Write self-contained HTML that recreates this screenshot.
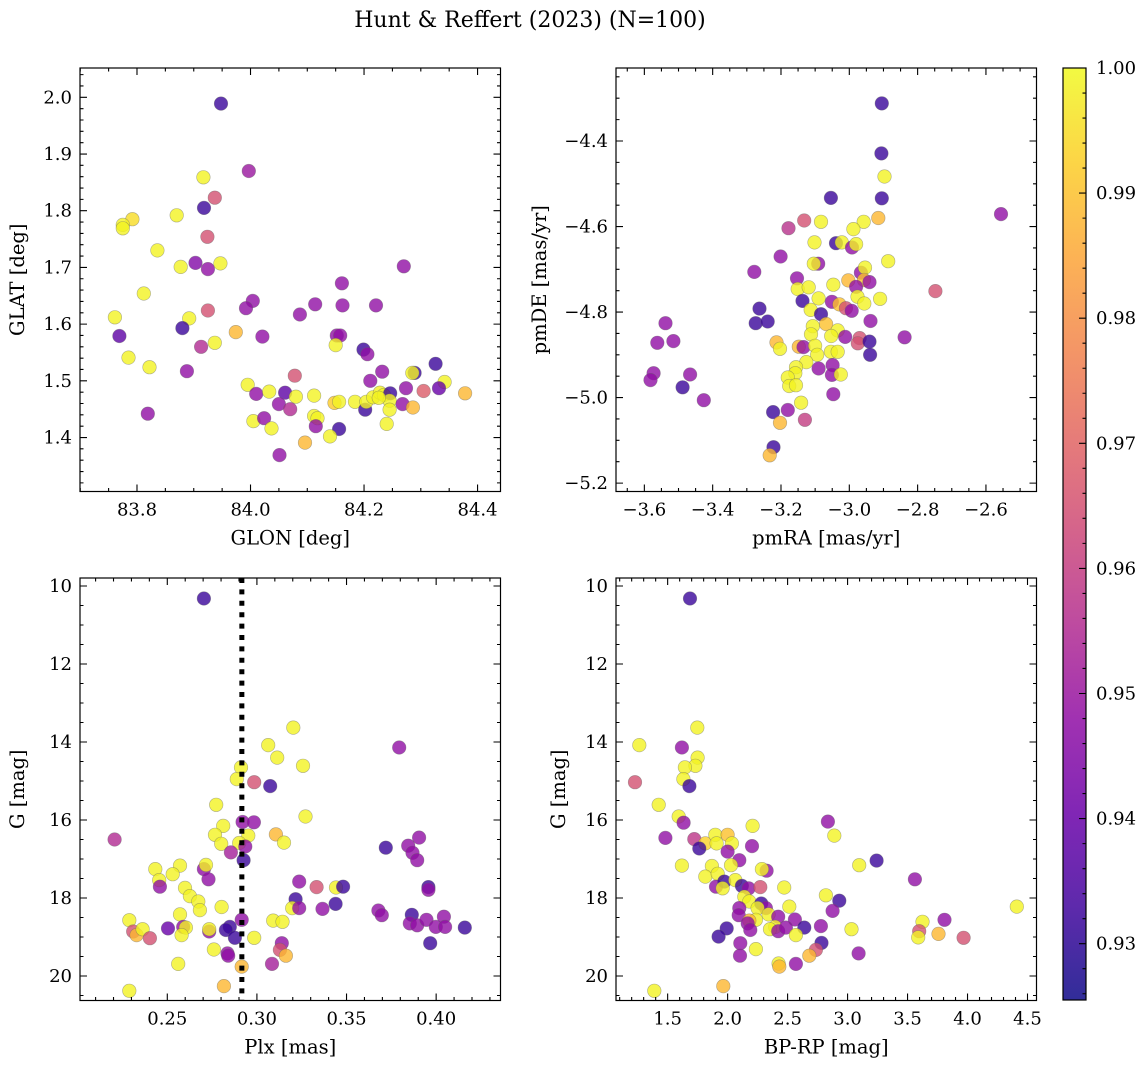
<!DOCTYPE html>
<html><head><meta charset="utf-8"><style>
html,body{margin:0;padding:0;background:#fff;}
svg text{font-family:"DejaVu Serif","Liberation Serif",serif;fill:#000;}
</style></head><body>
<svg id="fig" xmlns="http://www.w3.org/2000/svg" width="1148" height="1068" viewBox="0 0 1148 1068">
<rect width="1148" height="1068" fill="#fff"/>
<text x="530" y="27" font-size="22" text-anchor="middle">Hunt &amp; Reffert (2023) (N=100)</text>
</svg>
<script>
// ---------- Panel 1: GLON vs GLAT ----------
const glon=[83.948,83.997,83.917,83.937,83.918,83.792,83.775,83.775,83.870,83.924,83.836,83.903,83.925,83.877,83.947,84.270,84.161,83.812,84.004,83.992,84.114,84.162,84.221,84.087,83.761,83.892,83.925,83.769,83.880,83.974,84.021,84.152,84.158,84.150,83.785,83.822,83.913,83.937,83.888,84.199,84.206,83.819,84.326,84.232,84.211,84.289,84.285,84.342,84.332,84.274,84.305,84.378,83.995,84.010,84.033,84.061,84.078,84.080,84.050,84.070,84.112,84.148,84.156,84.184,84.202,84.204,84.216,84.228,84.235,84.246,84.245,84.245,84.240,84.226,84.268,84.286,84.005,84.024,84.037,84.112,84.118,84.115,84.156,84.140,84.096,84.051];
const glat=[1.989,1.870,1.859,1.823,1.805,1.785,1.775,1.769,1.792,1.754,1.730,1.708,1.697,1.701,1.707,1.702,1.672,1.654,1.641,1.628,1.635,1.633,1.633,1.617,1.612,1.610,1.624,1.579,1.593,1.586,1.578,1.580,1.580,1.563,1.541,1.524,1.560,1.567,1.517,1.555,1.547,1.442,1.530,1.516,1.500,1.514,1.514,1.498,1.487,1.487,1.482,1.478,1.493,1.477,1.481,1.479,1.509,1.472,1.459,1.450,1.474,1.461,1.463,1.463,1.449,1.463,1.471,1.479,1.475,1.478,1.465,1.449,1.424,1.470,1.459,1.453,1.429,1.434,1.416,1.438,1.434,1.420,1.415,1.402,1.391,1.369];
const prob1=[0.932,0.950,0.999,0.965,0.932,0.995,0.999,0.999,0.999,0.965,0.999,0.945,0.948,0.999,0.999,0.948,0.948,0.999,0.948,0.948,0.948,0.948,0.948,0.948,0.999,0.999,0.965,0.938,0.932,0.988,0.948,0.948,0.948,0.999,0.999,0.999,0.955,0.999,0.948,0.932,0.948,0.948,0.932,0.948,0.948,0.932,0.999,0.999,0.940,0.948,0.968,0.988,0.999,0.948,0.999,0.938,0.965,0.999,0.948,0.955,0.999,0.992,0.999,0.999,0.932,0.999,0.999,0.999,0.999,0.932,0.999,0.999,0.999,0.999,0.948,0.988,0.999,0.948,0.999,0.999,0.999,0.948,0.932,0.999,0.988,0.948];
// ---------- Panel 2: pmRA vs pmDE ----------
const pmra=[-2.905,-2.906,-2.897,-3.054,-2.905,-2.556,-3.132,-3.178,-3.083,-2.958,-2.915,-2.988,-3.039,-3.022,-3.102,-2.992,-2.980,-3.201,-2.886,-3.091,-3.104,-3.278,-2.966,-2.954,-3.153,-3.003,-2.957,-2.941,-3.047,-3.151,-3.119,-2.980,-2.748,-3.137,-3.090,-2.976,-2.956,-2.910,-3.051,-3.029,-3.010,-2.993,-3.263,-3.113,-3.083,-3.274,-3.239,-2.938,-3.538,-3.068,-3.107,-3.034,-3.112,-3.053,-3.562,-3.515,-3.012,-2.970,-2.975,-2.941,-2.838,-3.213,-3.203,-3.148,-3.134,-3.100,-3.094,-3.054,-3.034,-2.939,-3.126,-3.090,-3.049,-3.051,-3.025,-3.156,-3.158,-3.180,-3.176,-3.156,-3.573,-3.582,-3.466,-3.488,-3.426,-3.047,-3.141,-3.223,-3.180,-3.130,-3.203,-3.222,-3.233];
const pmde=[-4.312,-4.429,-4.483,-4.533,-4.534,-4.571,-4.586,-4.604,-4.589,-4.589,-4.580,-4.606,-4.639,-4.637,-4.637,-4.649,-4.641,-4.670,-4.681,-4.687,-4.687,-4.706,-4.708,-4.696,-4.721,-4.726,-4.725,-4.730,-4.736,-4.746,-4.742,-4.741,-4.751,-4.774,-4.768,-4.764,-4.780,-4.769,-4.776,-4.782,-4.791,-4.797,-4.792,-4.795,-4.805,-4.826,-4.822,-4.821,-4.826,-4.828,-4.833,-4.843,-4.852,-4.856,-4.872,-4.868,-4.858,-4.861,-4.873,-4.869,-4.859,-4.871,-4.886,-4.881,-4.882,-4.879,-4.900,-4.893,-4.893,-4.900,-4.917,-4.932,-4.924,-4.947,-4.946,-4.929,-4.943,-4.953,-4.973,-4.971,-4.943,-4.959,-4.946,-4.976,-5.006,-4.992,-5.012,-5.034,-5.029,-5.052,-5.059,-5.116,-5.135];
const prob2=[0.932,0.932,0.999,0.932,0.932,0.948,0.965,0.957,0.999,0.999,0.988,0.999,0.932,0.999,0.999,0.948,0.999,0.948,0.999,0.948,0.999,0.948,0.948,0.999,0.948,0.988,0.990,0.948,0.999,0.999,0.999,0.948,0.965,0.932,0.999,0.999,0.999,0.999,0.948,0.990,0.965,0.948,0.932,0.999,0.932,0.932,0.932,0.948,0.948,0.990,0.999,0.999,0.999,0.999,0.948,0.948,0.948,0.965,0.965,0.932,0.948,0.988,0.999,0.988,0.948,0.999,0.999,0.999,0.999,0.932,0.999,0.948,0.948,0.948,0.999,0.999,0.999,0.999,0.999,0.999,0.948,0.948,0.948,0.932,0.948,0.948,0.999,0.932,0.948,0.960,0.988,0.932,0.988];
// ---------- Panel 3: Plx vs G ----------
const plx=[0.2704,0.3203,0.3063,0.3113,0.3794,0.3257,0.2911,0.2888,0.2985,0.3074,0.2773,0.3271,0.2920,0.2983,0.2812,0.2206,0.2766,0.2952,0.3106,0.3151,0.2801,0.2901,0.2935,0.2855,0.2926,0.3719,0.3844,0.3868,0.3905,0.3894,0.2433,0.2571,0.2530,0.2455,0.2459,0.2704,0.2716,0.2730,0.2599,0.2626,0.2673,0.2682,0.2803,0.2571,0.3236,0.3333,0.3441,0.3481,0.3216,0.3197,0.3236,0.3366,0.3439,0.3678,0.3697,0.3864,0.3853,0.3894,0.3957,0.3957,0.3946,0.3998,0.4043,0.4050,0.4160,0.3967,0.2288,0.2310,0.2329,0.2362,0.2403,0.2504,0.2589,0.2604,0.2580,0.2734,0.2734,0.2849,0.2827,0.2877,0.2915,0.2985,0.3091,0.3143,0.2760,0.2836,0.2840,0.3139,0.3128,0.3162,0.3084,0.2561,0.2915,0.2816,0.2288];
const gmag3=[10.32,13.63,14.08,14.40,14.14,14.61,14.65,14.95,15.03,15.13,15.61,15.91,16.05,16.06,16.15,16.50,16.38,16.40,16.37,16.58,16.61,16.59,16.68,16.83,17.03,16.71,16.66,16.84,16.45,17.03,17.26,17.17,17.39,17.54,17.71,17.26,17.15,17.52,17.74,17.95,18.09,18.31,18.23,18.42,17.58,17.72,17.73,17.71,18.03,18.26,18.26,18.28,18.15,18.32,18.44,18.43,18.65,18.70,17.72,17.79,18.56,18.74,18.48,18.74,18.76,19.16,18.57,18.86,18.95,18.80,19.03,18.78,18.74,18.76,18.95,18.86,18.80,18.74,18.82,19.02,18.56,19.02,18.58,18.61,19.32,19.42,19.48,19.16,19.33,19.48,19.69,19.69,19.76,20.26,20.38];
const prob3=[0.932,0.999,0.999,0.999,0.948,0.999,0.999,0.999,0.965,0.932,0.999,0.999,0.948,0.948,0.999,0.955,0.999,0.999,0.988,0.999,0.999,0.999,0.948,0.952,0.932,0.932,0.948,0.948,0.948,0.948,0.999,0.999,0.999,0.999,0.948,0.948,0.999,0.948,0.999,0.999,0.999,0.999,0.999,0.999,0.948,0.965,0.999,0.932,0.932,0.999,0.948,0.948,0.932,0.948,0.948,0.932,0.948,0.948,0.932,0.948,0.948,0.948,0.948,0.948,0.932,0.932,0.999,0.965,0.988,0.999,0.965,0.940,0.948,0.999,0.999,0.948,0.999,0.932,0.932,0.932,0.948,0.999,0.999,0.999,0.999,0.948,0.948,0.948,0.965,0.988,0.952,0.999,0.988,0.988,0.999];
const plxLine=[0.2916];
// ---------- Panel 4: BP-RP vs G ----------
const bprp=[1.686,1.747,1.264,1.619,1.750,1.731,1.644,1.631,1.228,1.681,1.425,1.592,1.633,2.208,1.481,2.836,2.889,1.722,1.814,1.897,2.000,1.908,2.036,1.764,2.203,2.000,2.097,2.028,1.619,1.869,3.097,3.242,2.325,2.286,1.814,1.917,1.903,1.972,1.958,2.064,2.119,2.175,2.272,2.472,3.561,2.819,2.931,2.875,2.139,2.181,2.281,2.319,2.250,2.097,2.092,2.342,2.514,2.422,2.561,2.236,2.181,2.167,2.189,2.397,2.353,2.422,2.486,2.639,2.569,2.778,3.033,1.992,1.925,3.625,3.808,3.597,3.589,3.758,3.967,4.411,2.106,2.103,2.236,2.783,2.736,2.681,3.092,2.569,2.425,2.431,1.964,1.389];
const gmag4=[10.32,13.63,14.08,14.14,14.40,14.61,14.65,14.95,15.03,15.13,15.61,15.91,16.07,16.15,16.46,16.04,16.40,16.49,16.60,16.38,16.38,16.60,16.60,16.73,16.67,16.81,17.03,17.16,17.17,17.18,17.16,17.04,17.30,17.26,17.45,17.38,17.71,17.58,17.75,17.54,17.69,17.75,17.72,17.73,17.52,17.93,18.07,18.33,17.97,18.09,18.14,18.26,18.26,18.26,18.44,18.42,18.22,18.48,18.55,18.56,18.58,18.65,18.82,18.74,18.80,18.85,18.76,18.76,18.95,18.72,18.80,18.78,18.99,18.61,18.56,18.85,19.01,18.92,19.02,18.22,19.16,19.48,19.31,19.15,19.33,19.48,19.42,19.69,19.68,19.76,20.26,20.38];
const prob4=[0.932,0.999,0.999,0.948,0.999,0.999,0.999,0.999,0.965,0.932,0.999,0.999,0.948,0.999,0.948,0.948,0.999,0.958,0.993,0.999,0.990,0.999,0.999,0.932,0.948,0.948,0.948,0.999,0.999,0.999,0.999,0.932,0.948,0.999,0.999,0.999,0.948,0.932,0.999,0.999,0.932,0.948,0.965,0.999,0.948,0.999,0.932,0.948,0.999,0.999,0.932,0.948,0.999,0.948,0.948,0.999,0.999,0.948,0.948,0.999,0.988,0.948,0.948,0.999,0.999,0.948,0.948,0.932,0.999,0.948,0.999,0.932,0.932,0.999,0.948,0.965,0.999,0.988,0.965,0.999,0.948,0.948,0.999,0.932,0.965,0.988,0.948,0.948,0.999,0.988,0.988,0.999];
// ---------- Colorbar ----------
const cbTicks=[0.93,0.94,0.95,0.96,0.97,0.98,0.99,1.00];
const cbMin=0.9255, cbMax=1.0;

const NS="http://www.w3.org/2000/svg";
const svg=document.getElementById('fig');
function mk(tag,attrs,parent){const e=document.createElementNS(NS,tag);for(const k in attrs)e.setAttribute(k,attrs[k]);(parent||svg).appendChild(e);return e;}
const PL=[[0,[13,8,135]],[0.1,[65,4,157]],[0.2,[106,0,168]],[0.3,[143,13,164]],[0.4,[177,42,144]],[0.5,[204,71,120]],[0.6,[225,100,98]],[0.7,[242,132,75]],[0.8,[252,166,54]],[0.9,[252,206,37]],[1.0,[240,249,33]]];
function plasma(t){t=Math.max(0,Math.min(1,t));for(let i=1;i<PL.length;i++){if(t<=PL[i][0]){const a=PL[i-1],b=PL[i],f=(t-a[0])/(b[0]-a[0]);const c=a[1].map((v,j)=>Math.round(v+(b[1][j]-v)*f));return `rgb(${c[0]},${c[1]},${c[2]})`;}}return 'rgb(240,249,33)';}
function cnorm(p){return (p-cbMin)/(cbMax-cbMin);}
function fmtNum(v,d){const s=Math.abs(v).toFixed(d);return (v<-1e-9?'\u2212':'')+s;}
function ticks(lo,hi,step){const out=[];const k0=Math.ceil(lo/step-1e-6),k1=Math.floor(hi/step+1e-6);for(let k=k0;k<=k1;k++)out.push(+(k*step).toFixed(6));return out;}

function panel(o){
  const g=mk('g',{});
  
  
  const sx=v=>o.L+(v-o.x0)/(o.x1-o.x0)*(o.R-o.L);
  const sy=v=>o.inv? o.T+(v-o.y0)/(o.y1-o.y0)*(o.B-o.T) : o.B-(v-o.y0)/(o.y1-o.y0)*(o.B-o.T);
  const clip=mk('clipPath',{id:o.name+'-clip'},g);mk('rect',{x:o.L,y:o.T,width:o.R-o.L,height:o.B-o.T},clip);
  const pts=mk('g',{'clip-path':`url(#${o.name}-clip)`},g);
  
  
  for(let i=0;i<o.xs.length;i++){
    const c=mk('circle',{cx:sx(o.xs[i]).toFixed(1),cy:sy(o.ys[i]).toFixed(1),r:6.8,fill:plasma(cnorm(o.cs[i])),'fill-opacity':0.8,stroke:'#666','stroke-opacity':0.5,'stroke-width':0.6},pts);
    
    
  }
  if(o.vline){for(const v of o.vline){const l=mk('line',{x1:sx(v),x2:sx(v),y1:o.T,y2:o.B,stroke:'#000','stroke-width':5,'stroke-dasharray':'5 6.4'},g);
    
    }}
  const fr=mk('rect',{x:o.L,y:o.T,width:o.R-o.L,height:o.B-o.T,fill:'none',stroke:'#000','stroke-width':1.2},g);
  
  
  let d='';
  for(const v of ticks(o.x0,o.x1,o.xmin)){const x=sx(v);d+=`M${x} ${o.B}v-3.5M${x} ${o.T}v3.5`;}
  for(const v of ticks(o.y0,o.y1,o.ymin)){const y=sy(v);d+=`M${o.L} ${y}h3.5M${o.R} ${y}h-3.5`;}
  for(const v of o.xmaj){const x=sx(v);d+=`M${x} ${o.B}v-7M${x} ${o.T}v7`;}
  for(const v of o.ymaj){const y=sy(v);d+=`M${o.L} ${y}h7M${o.R} ${y}h-7`;}
  mk('path',{d:d,stroke:'#000','stroke-width':1.1,fill:'none'},g);
  for(const v of o.xmaj){const t=mk('text',{x:sx(v),y:o.B+24,'font-size':18,'text-anchor':'middle'},g);t.textContent=fmtNum(v,o.xd);
    
    }
  for(const v of o.ymaj){const t=mk('text',{x:o.L-8,y:sy(v)+6,'font-size':18,'text-anchor':'end'},g);t.textContent=fmtNum(v,o.yd);
    
    }
  const xt=mk('text',{x:(o.L+o.R)/2,y:o.B+53,'font-size':19.5,'text-anchor':'middle'},g);xt.textContent=o.xlabel;
  
  
  const yx=o.ylx,yy=(o.T+o.B)/2;
  const yt=mk('text',{x:yx,y:yy,'font-size':19.5,'text-anchor':'middle',transform:`rotate(-90 ${yx} ${yy})`},g);yt.textContent=o.ylabel;
  
  
}

panel({name:'glon-glat-panel',L:80,R:500.5,T:68,B:491.5,x0:83.6996,x1:84.4404,y0:1.3048,y1:2.0517,xs:glon,ys:glat,cs:prob1,
  xmaj:[83.8,84.0,84.2,84.4],xmin:0.05,ymaj:[1.4,1.5,1.6,1.7,1.8,1.9,2.0],ymin:0.02,xd:1,yd:1,xlabel:'GLON [deg]',ylabel:'GLAT [deg]',ylx:24});
panel({name:'pm-panel',L:616,R:1036.5,T:68,B:491.5,x0:-3.683,x1:-2.452,y0:-5.2196,y1:-4.2293,xs:pmra,ys:pmde,cs:prob2,
  xmaj:[-3.6,-3.4,-3.2,-3.0,-2.8,-2.6],xmin:0.05,ymaj:[-5.2,-5.0,-4.8,-4.6,-4.4],ymin:0.05,xd:1,yd:1,xlabel:'pmRA [mas/yr]',ylabel:'pmDE [mas/yr]',ylx:546});
panel({name:'plx-g-panel',L:80,R:500.5,T:578,B:1000.5,x0:0.2013,x1:0.4359,y0:9.795,y1:20.628,inv:true,xs:plx,ys:gmag3,cs:prob3,vline:plxLine,
  xmaj:[0.25,0.30,0.35,0.40],xmin:0.01,ymaj:[10,12,14,16,18,20],ymin:0.5,xd:2,yd:0,xlabel:'Plx [mas]',ylabel:'G [mag]',ylx:24});
panel({name:'cmd-panel',L:616,R:1036.5,T:578,B:1000.5,x0:1.0694,x1:4.575,y0:9.795,y1:20.628,inv:true,xs:bprp,ys:gmag4,cs:prob4,
  xmaj:[1.5,2.0,2.5,3.0,3.5,4.0,4.5],xmin:0.1,ymaj:[10,12,14,16,18,20],ymin:0.5,xd:1,yd:0,xlabel:'BP-RP [mag]',ylabel:'G [mag]',ylx:565});

(function(){
  const L=1063,R=1086,T=68,B=1000;
  const cg=mk('g',{});
  
  
  const defs=mk('defs',{},cg);
  const lg=mk('linearGradient',{id:'cbgrad',x1:0,y1:1,x2:0,y2:0},defs);
  for(let i=0;i<=20;i++){mk('stop',{offset:(i/20),'stop-color':plasma(i/20),'stop-opacity':0.85},lg);}
  mk('rect',{x:L,y:T,width:R-L,height:B-T,fill:'url(#cbgrad)'},cg);
  mk('rect',{x:L,y:T,width:R-L,height:B-T,fill:'none',stroke:'#000','stroke-width':1.2},cg);
  const sy=v=>B-(v-cbMin)/(cbMax-cbMin)*(B-T);
  let d='';
  for(const v of ticks(cbMin,cbMax,0.002)){d+=`M${R} ${sy(v)}h-3.5`;}
  for(const v of cbTicks){d+=`M${R} ${sy(v)}h-7`;}
  mk('path',{d:d,stroke:'#000','stroke-width':1.1},cg);
  for(const v of cbTicks){const t=mk('text',{x:R+10,y:sy(v)+6,'font-size':18},cg);t.textContent=v.toFixed(2);
    
    }
})();
</script>
</body></html>
